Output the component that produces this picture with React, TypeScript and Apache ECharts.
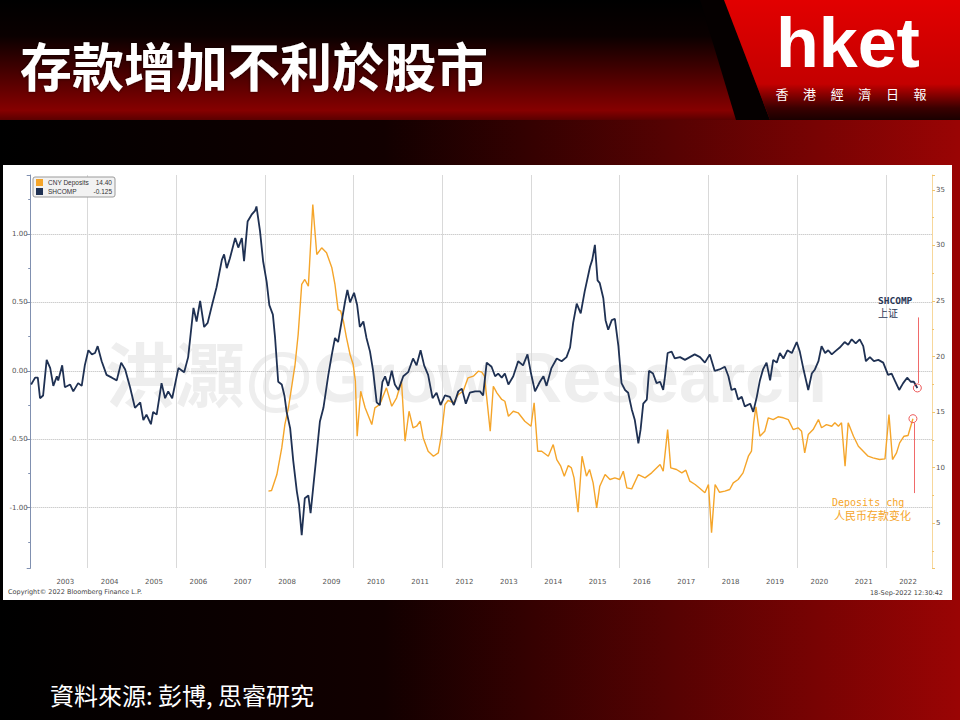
import React, { useEffect, useRef } from "react";
import * as echarts from "echarts";

const titleText = "存款增加不利於股市";
const sourceText = "資料來源: 彭博, 思睿研究";
const logoText = "hket";
const logoSub = ["香", "港", "經", "濟", "日", "報"];
const watermark = "洪灝@Grow Research";
const copyrightText = "Copyright© 2022 Bloomberg Finance L.P.";
const stampText = "18-Sep-2022 12:30:42";

const seriesNames = ["CNY Deposits", "SHCOMP"];
const legendValues = ["14.40", "-0.125"];
const yearLabels = [2003, 2004, 2005, 2006, 2007, 2008, 2009, 2010, 2011, 2012, 2013, 2014, 2015, 2016, 2017, 2018, 2019, 2020, 2021, 2022];

// SHCOMP (left axis) [decimal year, value]
const shcomp: [number, number][] = [
  [2002.73, -0.10], [2002.82, -0.05], [2002.88, -0.05], [2002.93, -0.20], [2003.0, -0.18], [2003.08, 0.08], [2003.16, 0.02], [2003.23, -0.11],
  [2003.31, -0.04], [2003.34, -0.07], [2003.43, 0.04], [2003.49, -0.12], [2003.61, -0.10], [2003.68, -0.15], [2003.79, -0.09], [2003.87, -0.11],
  [2003.94, 0.04], [2004.02, 0.15], [2004.10, 0.12], [2004.17, 0.13], [2004.23, 0.18], [2004.32, 0.07], [2004.43, -0.03], [2004.55, -0.05],
  [2004.66, -0.07], [2004.76, 0.06], [2004.85, 0.01], [2004.96, -0.12], [2005.07, -0.27], [2005.19, -0.23], [2005.26, -0.36], [2005.33, -0.32],
  [2005.43, -0.39], [2005.48, -0.30], [2005.56, -0.32], [2005.67, -0.09], [2005.75, -0.20], [2005.82, -0.15], [2005.91, -0.20], [2006.05, 0.02],
  [2006.18, -0.01], [2006.27, 0.10], [2006.39, 0.46], [2006.46, 0.36], [2006.54, 0.51], [2006.63, 0.32], [2006.71, 0.35], [2006.80, 0.47],
  [2006.91, 0.61], [2007.03, 0.81], [2007.08, 0.85], [2007.14, 0.75], [2007.21, 0.82], [2007.33, 0.97], [2007.40, 0.90], [2007.48, 0.97],
  [2007.53, 0.80], [2007.61, 1.09], [2007.70, 1.14], [2007.78, 1.17], [2007.81, 1.20], [2007.89, 1.02], [2007.96, 0.80], [2008.04, 0.65],
  [2008.10, 0.48], [2008.18, 0.41], [2008.23, 0.24], [2008.30, -0.08], [2008.38, -0.10], [2008.44, -0.18], [2008.49, -0.30], [2008.57, -0.42],
  [2008.64, -0.66], [2008.72, -0.88], [2008.77, -0.98], [2008.83, -1.20], [2008.90, -0.93], [2008.98, -0.91], [2009.03, -1.04], [2009.09, -0.85],
  [2009.15, -0.66], [2009.24, -0.37], [2009.32, -0.27], [2009.43, -0.03], [2009.51, 0.12], [2009.58, 0.24], [2009.65, 0.21], [2009.73, 0.36],
  [2009.81, 0.51], [2009.86, 0.59], [2009.92, 0.50], [2010.01, 0.57], [2010.08, 0.48], [2010.14, 0.32], [2010.22, 0.36], [2010.29, 0.24],
  [2010.37, 0.14], [2010.44, 0.00], [2010.52, -0.23], [2010.59, -0.25], [2010.65, -0.08], [2010.71, -0.04], [2010.78, -0.11], [2010.86, 0.00],
  [2010.93, -0.10], [2011.01, -0.14], [2011.12, -0.04], [2011.23, -0.01], [2011.34, 0.09], [2011.42, 0.04], [2011.51, 0.15], [2011.59, 0.04],
  [2011.68, -0.03], [2011.78, -0.20], [2011.87, -0.16], [2011.96, -0.25], [2012.06, -0.18], [2012.17, -0.19], [2012.26, -0.25], [2012.36, -0.15],
  [2012.44, -0.13], [2012.53, -0.24], [2012.62, -0.16], [2012.74, -0.15], [2012.85, -0.15], [2012.92, -0.18], [2013.0, 0.06], [2013.11, 0.03],
  [2013.19, -0.04], [2013.26, -0.02], [2013.34, -0.05], [2013.41, -0.02], [2013.49, -0.10], [2013.60, -0.04], [2013.71, 0.07], [2013.82, 0.04],
  [2013.92, 0.12], [2014.0, -0.02], [2014.09, -0.15], [2014.20, -0.08], [2014.28, -0.04], [2014.35, -0.11], [2014.46, 0.02], [2014.58, 0.09],
  [2014.69, 0.07], [2014.80, 0.10], [2014.88, 0.17], [2014.95, 0.35], [2015.03, 0.49], [2015.12, 0.42], [2015.21, 0.58], [2015.33, 0.76],
  [2015.38, 0.81], [2015.44, 0.92], [2015.50, 0.66], [2015.55, 0.64], [2015.63, 0.53], [2015.68, 0.37], [2015.74, 0.30], [2015.82, 0.37],
  [2015.89, 0.38], [2015.97, 0.18], [2016.04, -0.09], [2016.12, -0.14], [2016.19, -0.16], [2016.27, -0.28], [2016.34, -0.36], [2016.42, -0.53],
  [2016.47, -0.43], [2016.53, -0.24], [2016.61, -0.21], [2016.66, 0.00], [2016.75, -0.02], [2016.83, -0.09], [2016.91, -0.08], [2016.98, -0.14],
  [2017.02, -0.04], [2017.08, 0.13], [2017.17, 0.14], [2017.24, 0.09], [2017.36, 0.10], [2017.47, 0.08], [2017.58, 0.10], [2017.69, 0.12],
  [2017.81, 0.10], [2017.92, 0.06], [2018.03, 0.12], [2018.14, 0.00], [2018.25, 0.01], [2018.37, 0.03], [2018.45, -0.04], [2018.52, -0.14],
  [2018.60, -0.13], [2018.67, -0.21], [2018.75, -0.19], [2018.82, -0.26], [2018.94, -0.24], [2019.01, -0.30], [2019.09, -0.19], [2019.16, -0.07],
  [2019.23, 0.01], [2019.31, 0.06], [2019.39, -0.07], [2019.46, 0.08], [2019.54, 0.06], [2019.61, 0.13], [2019.69, 0.09], [2019.78, 0.15],
  [2019.88, 0.13], [2019.99, 0.21], [2020.06, 0.14], [2020.15, 0.00], [2020.25, -0.14], [2020.33, -0.02], [2020.40, 0.01], [2020.48, 0.07],
  [2020.55, 0.18], [2020.63, 0.13], [2020.70, 0.15], [2020.78, 0.12], [2020.85, 0.14], [2020.96, 0.17], [2021.07, 0.21], [2021.15, 0.19],
  [2021.23, 0.23], [2021.32, 0.20], [2021.41, 0.23], [2021.49, 0.18], [2021.55, 0.07], [2021.64, 0.10], [2021.73, 0.07], [2021.83, 0.08],
  [2021.94, 0.06], [2022.05, -0.03], [2022.13, -0.02], [2022.20, -0.07], [2022.30, -0.14], [2022.39, -0.09], [2022.48, -0.05], [2022.56, -0.08],
  [2022.63, -0.08], [2022.71, -0.125],
];

// CNY Deposits change (right axis) [decimal year, value]
const deposits: [number, number][] = [
  [2008.08, 7.87], [2008.15, 7.93], [2008.27, 9.37], [2008.38, 11.77], [2008.45, 13.87], [2008.53, 15.38], [2008.60, 17.18], [2008.68, 19.28],
  [2008.75, 21.98], [2008.83, 26.49], [2008.90, 26.94], [2008.98, 26.33], [2009.08, 33.69], [2009.17, 29.19], [2009.28, 29.79], [2009.39, 29.34],
  [2009.51, 27.99], [2009.58, 26.49], [2009.65, 24.23], [2009.71, 24.08], [2009.77, 23.18], [2009.84, 21.68], [2009.92, 20.18], [2009.99, 19.28],
  [2010.04, 17.77], [2010.08, 12.82], [2010.16, 16.87], [2010.26, 15.38], [2010.41, 13.87], [2010.48, 15.38], [2010.59, 15.68], [2010.74, 17.18],
  [2010.86, 15.52], [2010.97, 16.28], [2011.08, 17.77], [2011.16, 12.37], [2011.25, 15.07], [2011.34, 13.58], [2011.42, 13.72], [2011.50, 14.17],
  [2011.57, 12.67], [2011.68, 11.47], [2011.80, 11.02], [2011.91, 11.32], [2011.98, 12.97], [2012.06, 15.68], [2012.13, 16.04], [2012.25, 15.83],
  [2012.36, 16.58], [2012.47, 16.87], [2012.58, 18.08], [2012.70, 18.23], [2012.81, 18.68], [2012.89, 18.59], [2012.95, 18.23], [2013.08, 13.27],
  [2013.15, 17.32], [2013.23, 16.73], [2013.34, 16.13], [2013.41, 15.97], [2013.49, 14.62], [2013.60, 15.07], [2013.71, 14.93], [2013.86, 14.17],
  [2014.0, 13.72], [2014.07, 15.83], [2014.15, 11.47], [2014.24, 11.47], [2014.39, 11.02], [2014.50, 12.07], [2014.58, 10.72], [2014.67, 10.12],
  [2014.75, 9.22], [2014.84, 10.18], [2014.91, 9.97], [2014.97, 9.07], [2015.06, 5.97], [2015.15, 11.02], [2015.25, 9.22], [2015.32, 9.82],
  [2015.40, 8.62], [2015.48, 6.37], [2015.55, 8.32], [2015.67, 9.37], [2015.78, 8.92], [2015.89, 9.07], [2016.0, 8.92], [2016.08, 9.67],
  [2016.16, 8.17], [2016.27, 8.08], [2016.42, 9.37], [2016.57, 9.07], [2016.72, 9.52], [2016.91, 10.27], [2016.98, 9.67], [2017.08, 13.42],
  [2017.15, 9.97], [2017.28, 9.82], [2017.40, 9.52], [2017.49, 9.76], [2017.58, 8.77], [2017.70, 8.47], [2017.81, 8.11], [2017.92, 7.72],
  [2018.0, 8.47], [2018.07, 4.12], [2018.15, 8.47], [2018.25, 7.77], [2018.37, 7.87], [2018.48, 8.02], [2018.56, 8.62], [2018.67, 8.92],
  [2018.78, 9.52], [2018.90, 11.02], [2018.97, 11.47], [2019.02, 14.03], [2019.07, 15.47], [2019.16, 12.82], [2019.27, 13.27], [2019.35, 14.48],
  [2019.46, 14.32], [2019.57, 14.57], [2019.69, 14.48], [2019.80, 14.32], [2019.91, 13.42], [2020.02, 13.58], [2020.10, 13.27], [2020.17, 11.32],
  [2020.25, 12.97], [2020.36, 13.42], [2020.48, 14.32], [2020.55, 13.58], [2020.66, 13.87], [2020.78, 13.72], [2020.85, 14.03], [2020.93, 13.72],
  [2021.0, 14.03], [2021.08, 10.12], [2021.15, 14.03], [2021.27, 12.82], [2021.38, 11.92], [2021.49, 11.47], [2021.60, 11.02], [2021.71, 10.87],
  [2021.86, 10.72], [2021.98, 10.78], [2022.07, 14.77], [2022.15, 10.72], [2022.24, 11.32], [2022.31, 12.22], [2022.41, 12.82], [2022.50, 12.88],
  [2022.61, 14.40],
];

// annotation connector lines: [x, yStart, yEnd]
const shcompPointer = [2022.72, 0.39, -0.09];
const depositPointer = [2022.63, 14.0, 7.7];

const NAVY = "#1f3153";
const ORANGE = "#f5a52a";
const POINT_RED = "#ee5a5a";

export default function App() {
  const ref = useRef<HTMLDivElement>(null);

  useEffect(() => {
    if (!ref.current) return;
    const chart = echarts.init(ref.current, undefined, { renderer: "svg" });
    const lastS = shcomp[shcomp.length - 1];
    const lastD = deposits[deposits.length - 1];

    const subChars = logoSub.map((c, i) => ({
      type: "text",
      z: -5,
      x: 782 + i * 27.6,
      y: 93,
      style: { text: c, fill: "#ffffff", font: "13px 'Noto Sans CJK TC'", align: "center", verticalAlign: "middle" },
    }));

    const option: any = {
      animation: false,
      backgroundColor: "transparent",
      graphic: [
        {
          type: "rect", z: -100, shape: { x: 0, y: 120, width: 960, height: 600 },
          style: { fill: new echarts.graphic.LinearGradient(0, 0, 1, 0, [
            { offset: 0, color: "#000000" }, { offset: 0.4, color: "#120000" }, { offset: 1, color: "#9a0404" },
          ]) },
        },
        {
          type: "rect", z: -99, shape: { x: 0, y: 0, width: 960, height: 120 },
          style: { fill: new echarts.graphic.LinearGradient(0, 0, 0, 1, [
            { offset: 0, color: "#000000" }, { offset: 0.3, color: "#0a0000" }, { offset: 0.92, color: "#860000" }, { offset: 1, color: "#5a0000" },
          ]) },
        },
        {
          type: "polygon", z: -97, shape: { points: [[700, 0], [724, 0], [770, 120], [736, 120]] },
          style: { fill: "#050000" },
        },
        {
          type: "polygon", z: -96, shape: { points: [[724, 0], [960, 0], [960, 120], [770, 120]] },
          style: { fill: new echarts.graphic.LinearGradient(0, 0, 0, 1, [
            { offset: 0, color: "#e20000" }, { offset: 0.7, color: "#c40000" }, { offset: 0.9, color: "#3a0000" }, { offset: 1, color: "#1a0000" },
          ]) },
        },
        {
          type: "text", z: -5, x: 776, y: 43,
          style: { text: logoText, fill: "#ffffff", font: "bold 70px 'Liberation Sans'", align: "left", verticalAlign: "middle" },
        },
        ...subChars,
        {
          type: "text", z: -5, x: 20, y: 64,
          style: {
            text: titleText, fill: "#ffffff", font: "bold 52px 'Noto Sans CJK TC'", align: "left", verticalAlign: "middle",
            textShadowColor: "rgba(0,0,0,0.7)", textShadowBlur: 3,
          },
        },
        { type: "rect", z: -90, shape: { x: 3, y: 165, width: 949, height: 435 }, style: { fill: "#ffffff" } },
        {
          type: "text", z: -80, x: 105, y: 378,
          style: { text: watermark, fill: "#eeeeee", font: "bold 70px 'Liberation Sans', 'Noto Sans CJK TC'", align: "left", verticalAlign: "middle" },
        },
        {
          type: "text", z: 5, x: 8, y: 592,
          style: { text: copyrightText, fill: "#444", font: "6.5px 'DejaVu Sans'", align: "left", verticalAlign: "middle" },
        },
        {
          type: "text", z: 5, x: 943, y: 593,
          style: { text: stampText, fill: "#444", font: "6.5px 'DejaVu Sans'", align: "right", verticalAlign: "middle" },
        },
        {
          type: "text", z: 5, x: 878, y: 300,
          style: { text: "SHCOMP", fill: "#2b3857", font: "bold 9.5px 'DejaVu Sans Mono'", align: "left", verticalAlign: "middle" },
        },
        {
          type: "text", z: 5, x: 878, y: 312,
          style: { text: "上证", fill: "#2b3857", font: "10px 'Noto Sans CJK SC'", align: "left", verticalAlign: "middle" },
        },
        {
          type: "text", z: 5, x: 832, y: 502,
          style: { text: "Deposits chg", fill: ORANGE, font: "10px 'DejaVu Sans Mono'", align: "left", verticalAlign: "middle" },
        },
        {
          type: "text", z: 5, x: 834, y: 515,
          style: { text: "人民币存款变化", fill: ORANGE, font: "11px 'Noto Sans CJK SC'", align: "left", verticalAlign: "middle" },
        },
        {
          type: "text", z: 5, x: 50, y: 694,
          style: { text: sourceText, fill: "#ffffff", font: "24px 'Noto Sans CJK TC'", align: "left", verticalAlign: "middle" },
        },
      ],
      legend: {
        data: seriesNames,
        orient: "vertical",
        left: 33,
        top: 177,
        itemWidth: 7,
        itemHeight: 7,
        itemGap: 2,
        icon: "rect",
        padding: [2, 3],
        backgroundColor: "#f2f2f2",
        borderColor: "#9a9a9a",
        borderWidth: 1,
        borderRadius: 2,
        selectedMode: false,
        formatter: (name: string) => `{n|${name}}{v|${legendValues[seriesNames.indexOf(name)]}}`,
        textStyle: {
          fontSize: 6.5,
          color: "#333",
          fontFamily: "Liberation Sans",
          rich: {
            n: { width: 45, fontSize: 6.5, fontFamily: "Liberation Sans", color: "#333" },
            v: { width: 19, align: "right", fontSize: 6.5, fontFamily: "Liberation Sans", color: "#333" },
          },
        },
      },
      grid: { left: 30.7, right: 28, top: 175, bottom: 152, containLabel: false },
      xAxis: {
        type: "value",
        min: 2002.72,
        max: 2023.04,
        splitNumber: 10,
        axisLine: { show: false },
        axisTick: { show: false },
        splitLine: { show: true, showMinLine: false, showMaxLine: false, lineStyle: { color: "#d9d9d9", width: 1 } },
        axisLabel: {
          customValues: yearLabels.map((y) => y + 0.5),
          formatter: (v: number) => String(Math.floor(v)),
          fontSize: 7,
          color: "#555",
          fontFamily: "DejaVu Sans",
          margin: 10,
        },
      },
      yAxis: [
        {
          type: "value",
          position: "left",
          min: -1.44,
          max: 1.43,
          splitNumber: 5,
          axisLine: { show: true, lineStyle: { color: "#8090b0", width: 1 } },
          axisTick: { show: true, length: 4, lineStyle: { color: "#8090b0" } },
          minorTick: { show: true, splitNumber: 2, length: 2.5, lineStyle: { color: "#8090b0" } },
          splitLine: { show: true, showMinLine: false, showMaxLine: false, lineStyle: { color: "#b8b8b8", type: "dotted", width: 1 } },
          axisLabel: {
            showMinLabel: false, showMaxLabel: false, fontSize: 7, color: "#555", margin: 3, fontFamily: "DejaVu Sans",
            formatter: (v: number) => v.toFixed(2),
          },
        },
        {
          type: "value",
          position: "right",
          min: 0.95,
          max: 36.35,
          splitNumber: 7,
          axisLine: { show: true, lineStyle: { color: "#f7d79b", width: 1 } },
          axisTick: { show: true, length: 3, lineStyle: { color: "#f0c46e" } },
          minorTick: { show: true, splitNumber: 2, length: 2, lineStyle: { color: "#f0c46e" } },
          splitLine: { show: false },
          axisLabel: {
            showMinLabel: false, showMaxLabel: false, fontSize: 7, color: "#555", margin: 4, fontFamily: "DejaVu Sans",
            formatter: (v: number) => String(Math.round(v)),
          },
        },
      ],
      series: [
        {
          name: seriesNames[0],
          type: "line",
          yAxisIndex: 1,
          data: deposits,
          showSymbol: false,
          color: ORANGE,
          lineStyle: { color: ORANGE, width: 1.4 },
          z: 3,
          markPoint: {
            silent: true,
            symbol: "circle",
            symbolSize: 8,
            label: { show: false },
            itemStyle: { color: "rgba(255,255,255,0)", borderColor: POINT_RED, borderWidth: 1 },
            data: [{ coord: lastD }],
          },
          markLine: {
            silent: true,
            symbol: ["none", "none"],
            label: { show: false },
            lineStyle: { color: "#f06a6a", width: 1, type: "solid" },
            data: [[{ coord: [depositPointer[0], depositPointer[1]] }, { coord: [depositPointer[0], depositPointer[2]] }]],
          },
        },
        {
          name: seriesNames[1],
          type: "line",
          yAxisIndex: 0,
          data: shcomp,
          showSymbol: false,
          color: NAVY,
          lineStyle: { color: NAVY, width: 1.8 },
          z: 4,
          markPoint: {
            silent: true,
            symbol: "circle",
            symbolSize: 8,
            label: { show: false },
            itemStyle: { color: "rgba(255,255,255,0)", borderColor: POINT_RED, borderWidth: 1 },
            data: [{ coord: lastS }],
          },
          markLine: {
            silent: true,
            symbol: ["none", "none"],
            label: { show: false },
            lineStyle: { color: "#f06a6a", width: 1, type: "solid" },
            data: [[{ coord: [shcompPointer[0], shcompPointer[1]] }, { coord: [shcompPointer[0], shcompPointer[2]] }]],
          },
        },
      ],
    };

    chart.setOption(option);
    return () => chart.dispose();
  }, []);

  return (
    <div style={{ position: "absolute", left: 0, top: 0, width: 960, height: 720, background: "#000" }}>
      <div ref={ref} style={{ width: 960, height: 720 }} />
    </div>
  );
}
